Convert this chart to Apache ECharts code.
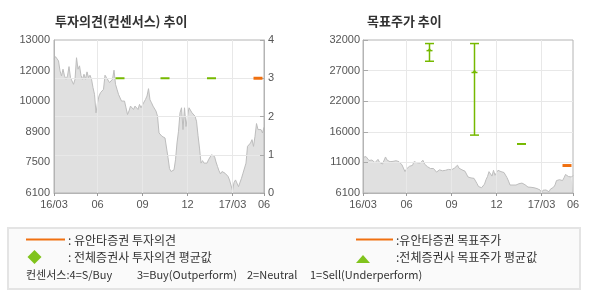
<!DOCTYPE html>
<html><head><meta charset="utf-8">
<script src="https://cdn.jsdelivr.net/npm/echarts@6/dist/echarts.min.js"></script>
<style>html,body{margin:0;padding:0;background:#fff}#c{width:590px;height:300px}</style>
</head><body><div id="c"></div>
<script>
// ---- data ----
const xTicks = [[0,'16/03'],[29,'06'],[59,'09'],[89,'12'],[119,'17/03'],[140,'06']];
const price = [
12137,12250,12258,12061,11607,11380,11683,11380,11229,11380,
11800,11300,11150,11002,11229,12200,11683,11834,11400,11229,
11456,11229,11562,11305,11411,11229,10851,10548,9716,10170,
10473,10624,10546,10775,11411,11305,11229,11078,11153,11229,
11638,11002,10775,10548,10473,10246,10170,10246,9943,9640,
9800,10019,10094,9867,10019,9943,9867,10094,9943,10019,
10200,10321,10473,10805,10300,10170,10019,9943,9792,9565,
8808,8839,8657,8733,8581,8506,7700,7200,7068,6990,
7144,7598,8354,8884,9716,9943,8960,9943,9100,9565,
9943,10019,9716,9640,9565,9338,8700,8127,7447,7560,
7447,7522,7447,7598,7674,7825,7779,7749,7500,7295,
7100,6962,7068,7144,6993,6962,6850,6690,6614,6206,
6569,6690,6614,6387,6312,6766,6993,7068,7447,8203,
8279,8354,8506,8203,8657,9232,8960,8884,8960,8808,
9065];
const leftPriceTicks = ['6100','7500','8900','10000','12000','13000'];
const opinionTicks = ['0','1','2','3','4'];
const rightPriceTicks = ['6100','11000','16000','22000','27000','32000'];
const consIdx = [44, 74, 105];
const consOpinion = [3, 3, 3];
const consTargetLow = [28400, 15900, 14400];
const consTargetHigh = [31400, 31400, 14400];
const consTargetAvg = [30200, 26500, 14400];
const yuantaIdx = [136];
const yuantaOpinion = [3];
const yuantaTarget = [10750];

// ---- styling ----
const FONT = 'Liberation Sans';
const KFONT = '"Noto Sans CJK KR"';
const GREEN = '#76b900';
const LGREEN = '#80c31c';
const ORANGE = '#f07010';
const GRIDC = '#e8e8e8';
const BORDER = '#b4b4b4';
const LABELC = '#555';

const categories = price.map((_, i) => { const t = xTicks.find(t => t[0] === i); return t ? t[1] : ''; });
const isTick = (idx) => xTicks.some(t => t[0] === idx);

function xAxisCfg(gi) {
  return {
    type: 'category', gridIndex: gi, data: categories, boundaryGap: false, z: 5,
    axisLine: { show: true, lineStyle: { color: BORDER } },
    axisTick: { show: true, interval: isTick, length: 3, lineStyle: { color: '#999' } },
    axisLabel: { interval: isTick, margin: 6, color: LABELC, fontSize: 11, fontFamily: FONT },
    splitLine: { show: true, interval: isTick, showMinLine: false, showMaxLine: false, lineStyle: { color: GRIDC } }
  };
}

function dashItem(color, width) {
  return function (params, api) {
    const p = api.coord([api.value(0), api.value(1)]);
    return { type: 'line', shape: { x1: p[0] - 4.5, y1: p[1], x2: p[0] + 4.5, y2: p[1] }, style: { stroke: color, lineWidth: width } };
  };
}

function targetItem(params, api) {
  const i = api.value(0);
  const lo = api.coord([i, api.value(1)]);
  const hi = api.coord([i, api.value(2)]);
  const av = api.coord([i, api.value(3)]);
  const x = Math.round(lo[0]) + 0.5, w = 4.5;
  const st = { stroke: GREEN, lineWidth: 1.5 };
  const ch = [];
  if (Math.abs(lo[1] - hi[1]) < 1) {
    ch.push({ type: 'line', shape: { x1: x - w, y1: av[1], x2: x + w, y2: av[1] }, style: { stroke: GREEN, lineWidth: 2 } });
  } else {
    ch.push({ type: 'line', shape: { x1: x, y1: hi[1], x2: x, y2: lo[1] }, style: st });
    ch.push({ type: 'line', shape: { x1: x - w, y1: hi[1], x2: x + w, y2: hi[1] }, style: st });
    ch.push({ type: 'line', shape: { x1: x - w, y1: lo[1], x2: x + w, y2: lo[1] }, style: st });
    ch.push({ type: 'line', shape: { x1: x - 3, y1: av[1], x2: x + 3, y2: av[1] }, style: st });
    ch.push({ type: 'polygon', shape: { points: [[x - 2, av[1]], [x + 2, av[1]], [x, av[1] - 3]] }, style: { fill: GREEN } });
  }
  return { type: 'group', children: ch };
}

const chart = echarts.init(document.getElementById('c'), null, { renderer: 'canvas' });

const T = (text, x, y, extra) => Object.assign({ type: 'text', z: 10, style: Object.assign({ text, x, y, font: '12px ' + KFONT, fill: '#333', verticalAlign: 'middle' }, extra || {}) });
const S = { font: '11px ' + KFONT };

chart.setOption({
  animation: false,
  backgroundColor: '#fff',
  grid: [
    { left: 54, top: 40, width: 210, height: 153, show: true, borderColor: BORDER, borderWidth: 1, backgroundColor: 'transparent', z: 4 },
    { left: 363, top: 40, width: 210, height: 153, show: true, borderColor: BORDER, borderWidth: 1, backgroundColor: 'transparent', z: 4 }
  ],
  xAxis: [xAxisCfg(0), xAxisCfg(1)],
  yAxis: [
    { type: 'value', gridIndex: 0, min: 6100, max: 13000, show: false },
    { type: 'value', gridIndex: 0, min: 0, max: 5, interval: 1, position: 'left', z: 5,
      axisLine: { show: true, lineStyle: { color: BORDER } }, axisTick: { show: false }, splitLine: { show: false },
      axisLabel: { margin: 4, color: LABELC, fontSize: 11, fontFamily: FONT, formatter: v => leftPriceTicks[Math.round(v)] } },
    { type: 'value', gridIndex: 0, min: 0, max: 4, interval: 1, position: 'right', z: 5,
      axisLine: { show: true, lineStyle: { color: BORDER } },
      axisTick: { show: true, inside: true, length: 4, lineStyle: { color: '#aaa' } },
      splitLine: { show: true, showMinLine: false, showMaxLine: false, lineStyle: { color: GRIDC } },
      axisLabel: { margin: 4, color: LABELC, fontSize: 11, fontFamily: FONT, formatter: v => opinionTicks[Math.round(v)] } },
    { type: 'value', gridIndex: 1, min: 6100, max: 32000, show: false },
    { type: 'value', gridIndex: 1, min: 0, max: 5, interval: 1, position: 'left', z: 5,
      axisLine: { show: true, lineStyle: { color: BORDER } },
      axisTick: { show: true, inside: true, length: 5, lineStyle: { color: '#aaa' } },
      splitLine: { show: true, showMinLine: false, showMaxLine: false, lineStyle: { color: GRIDC } },
      axisLabel: { margin: 3, color: LABELC, fontSize: 11, fontFamily: FONT, formatter: v => rightPriceTicks[Math.round(v)] } }
  ],
  series: [
    { type: 'line', xAxisIndex: 0, yAxisIndex: 0, data: price, symbol: 'none', silent: true, z: 2,
      lineStyle: { color: '#bdbdbd', width: 1 }, areaStyle: { color: '#e0e0e0', opacity: 1, origin: 'start' } },
    { type: 'line', xAxisIndex: 1, yAxisIndex: 3, data: price, symbol: 'none', silent: true, z: 2,
      lineStyle: { color: '#bdbdbd', width: 1 }, areaStyle: { color: '#e0e0e0', opacity: 1, origin: 'start' } },
    { type: 'custom', xAxisIndex: 0, yAxisIndex: 2, z: 10, clip: false, renderItem: dashItem(GREEN, 2),
      data: consIdx.map((d, k) => [d, consOpinion[k]]) },
    { type: 'custom', xAxisIndex: 0, yAxisIndex: 2, z: 11, clip: false, renderItem: dashItem(ORANGE, 3),
      data: yuantaIdx.map((d, k) => [d, yuantaOpinion[k]]) },
    { type: 'custom', xAxisIndex: 1, yAxisIndex: 3, z: 10, clip: false, renderItem: targetItem,
      data: consIdx.map((d, k) => [d, consTargetLow[k], consTargetHigh[k], consTargetAvg[k]]) },
    { type: 'custom', xAxisIndex: 1, yAxisIndex: 3, z: 11, clip: false, renderItem: dashItem(ORANGE, 3),
      data: yuantaIdx.map((d, k) => [d, yuantaTarget[k]]) }
  ],
  graphic: [
    T('투자의견(컨센서스) 추이', 55, 21, { font: 'bold 13px ' + KFONT }),
    T('목표주가 추이', 367, 21, { font: 'bold 13px ' + KFONT }),
    { type: 'rect', z: 1, shape: { x: 8, y: 228, width: 572, height: 61 }, style: { fill: '#fafafa', stroke: '#e4e4e4', lineWidth: 2 } },
    { type: 'line', z: 10, shape: { x1: 26, y1: 239.5, x2: 65, y2: 239.5 }, style: { stroke: ORANGE, lineWidth: 2 } },
    T(': 유안타증권 투자의견', 68, 240),
    { type: 'polygon', z: 10, shape: { points: [[34.5, 250], [41.5, 257], [34.5, 264], [27.5, 257]] }, style: { fill: LGREEN } },
    T(': 전체증권사 투자의견 평균값', 68, 257),
    T('컨센서스:4=S/Buy', 26, 275, S),
    T('3=Buy(Outperform)', 137, 275, S),
    T('2=Neutral', 247, 275, S),
    T('1=Sell(Underperform)', 310, 275, S),
    { type: 'line', z: 10, shape: { x1: 356, y1: 239.5, x2: 393, y2: 239.5 }, style: { stroke: ORANGE, lineWidth: 2 } },
    T(':유안타증권 목표주가', 396, 240),
    { type: 'polygon', z: 10, shape: { points: [[363, 255], [370, 263], [356, 263]] }, style: { fill: LGREEN } },
    T(':전체증권사 목표주가 평균값', 396, 257)
  ]
});
</script>
</body></html>
